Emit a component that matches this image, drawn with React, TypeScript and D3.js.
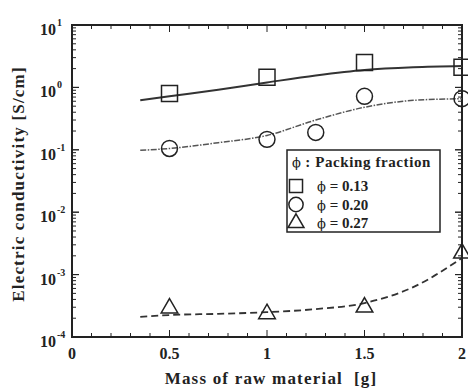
import React, { useRef, useEffect } from "react";
import * as d3 from "d3";

// measured points
const massA = [0.5, 1, 1.5, 2];
const condA = [0.8, 1.45, 2.5, 2.1]; // phi = 0.13
const massB = [0.5, 1, 1.25, 1.5, 2];
const condB = [0.105, 0.147, 0.19, 0.72, 0.66]; // phi = 0.20
const massC = [0.5, 1, 1.5, 2];
const condC = [2.9e-4, 2.35e-4, 3.0e-4, 2.2e-3]; // phi = 0.27

// fitted curves
const fitX = [0.35, 0.5, 0.75, 1, 1.25, 1.5, 1.75, 2];
const fitA = [0.62, 0.72, 0.92, 1.2, 1.55, 1.9, 2.1, 2.2];
const fitB = [0.098, 0.105, 0.13, 0.17, 0.3, 0.48, 0.62, 0.66];
const fitC = [2.1e-4, 2.25e-4, 2.35e-4, 2.5e-4, 2.8e-4, 3.5e-4, 6.3e-4, 1.85e-3];

const xTicks = [0, 0.5, 1, 1.5, 2];
const xTickLabels = ["0", "0.5", "1", "1.5", "2"];
const yExps = [1, 0, -1, -2, -3, -4];
const legendLabels = [" = 0.13", " = 0.20", " = 0.27"];

export default function App() {
  const svgRef = useRef<SVGSVGElement>(null);

  useEffect(() => {
    const width = 468;
    const height = 390;
    const left = 72, right = 462, top = 25, bottom = 337;
    const font = "'Liberation Serif', 'Times New Roman', serif";
    const phiFont = "'DejaVu Serif', serif";
    const ink = "#222";

    const svg = d3.select(svgRef.current);
    svg.selectAll("*").remove();
    svg.attr("width", width).attr("height", height);

    const x = d3.scaleLinear().domain([0, 2]).range([left, right]);
    const y = d3.scaleLog().domain([1e-4, 10]).range([bottom, top]);

    // frame
    svg.append("rect")
      .attr("x", left).attr("y", top)
      .attr("width", right - left).attr("height", bottom - top)
      .attr("fill", "none").attr("stroke", ink).attr("stroke-width", 2);

    // x ticks (inward, top and bottom)
    const xMinor = d3.range(0, 2.0001, 0.1);
    xMinor.forEach((v) => {
      const major = Math.abs(v * 2 - Math.round(v * 2)) < 1e-6;
      const len = major ? 7 : 4;
      [[bottom, -len], [top, len]].forEach(([y0, d]) => {
        svg.append("line")
          .attr("x1", x(v)).attr("x2", x(v))
          .attr("y1", y0).attr("y2", y0 + d)
          .attr("stroke", ink).attr("stroke-width", 1);
      });
    });

    // y ticks (log minor)
    for (let e = -4; e < 1; e++) {
      for (let m = 1; m <= 10; m++) {
        const v = m * Math.pow(10, e);
        const len = m === 1 || m === 10 ? 7 : 4;
        [[left, len], [right, -len]].forEach(([x0, d]) => {
          svg.append("line")
            .attr("x1", x0).attr("x2", x0 + d)
            .attr("y1", y(v)).attr("y2", y(v))
            .attr("stroke", ink).attr("stroke-width", 1);
        });
      }
    }

    // x tick labels
    xTicks.forEach((v, i) => {
      svg.append("text")
        .attr("x", x(v)).attr("y", 359)
        .attr("text-anchor", "middle")
        .style("font-family", font).style("font-weight", "bold")
        .style("font-size", "16px").style("fill", ink)
        .text(xTickLabels[i]);
    });

    // y tick labels
    yExps.forEach((e) => {
      svg.append("text")
        .attr("x", 56).attr("y", y(Math.pow(10, e)) + 10)
        .attr("text-anchor", "end")
        .style("font-family", font).style("font-weight", "bold")
        .style("font-size", "16px").style("fill", ink)
        .text("10");
      svg.append("text")
        .attr("x", 57).attr("y", y(Math.pow(10, e)) + 1)
        .style("font-family", font).style("font-weight", "bold")
        .style("font-size", "10px").style("fill", ink)
        .text(e < 0 ? "-" + Math.abs(e) : String(e));
    });

    // axis titles
    svg.append("text")
      .attr("x", 271).attr("y", 384)
      .attr("text-anchor", "middle")
      .style("font-family", font).style("font-weight", "bold")
      .style("font-size", "17px").style("letter-spacing", "1.2px")
      .style("white-space", "pre").style("fill", ink)
      .text("Mass of raw material  [g]");
    svg.append("text")
      .attr("transform", "translate(24,184) rotate(-90)")
      .attr("text-anchor", "middle")
      .style("font-family", font).style("font-weight", "bold")
      .style("font-size", "17px").style("letter-spacing", "1.2px")
      .style("fill", ink)
      .text("Electric conductivity [S/cm]");

    // fitted curves
    const line = (vals: number[]) =>
      d3.line<number>()
        .x((_, i) => x(fitX[i]))
        .y((d) => y(d))
        .curve(d3.curveMonotoneX)(vals);

    svg.append("path").attr("d", line(fitA))
      .attr("fill", "none").attr("stroke", "#333").attr("stroke-width", 2);
    svg.append("path").attr("d", line(fitB))
      .attr("fill", "none").attr("stroke", "#555").attr("stroke-width", 1.5)
      .attr("stroke-dasharray", "6,1.5,1.5,1.5");
    svg.append("path").attr("d", line(fitC))
      .attr("fill", "none").attr("stroke", "#333").attr("stroke-width", 1.8)
      .attr("stroke-dasharray", "7,4");

    // markers
    const square = d3.symbol().type(d3.symbolSquare).size(256);
    const circle = d3.symbol().type(d3.symbolCircle).size(200);
    const triangle = d3.symbol().type(d3.symbolTriangle).size(120);
    const mark = (xs: number[], ys: number[], sym: any) => {
      xs.forEach((v, i) => {
        svg.append("path")
          .attr("d", sym())
          .attr("transform", `translate(${x(v)},${y(ys[i])})`)
          .attr("fill", "none").attr("stroke", ink).attr("stroke-width", 1.5);
      });
    };
    mark(massA, condA, square);
    mark(massB, condB, circle);
    mark(massC, condC, triangle);

    // legend
    const lg = svg.append("g");
    lg.append("rect")
      .attr("x", 287).attr("y", 150).attr("width", 153).attr("height", 82)
      .attr("fill", "white").attr("stroke", ink).attr("stroke-width", 1.5);
    const title = lg.append("text")
      .attr("x", 292).attr("y", 167)
      .style("font-family", font).style("font-weight", "bold")
      .style("font-size", "15px").style("fill", ink);
    title.append("tspan").style("font-family", phiFont).style("font-weight", "normal")
      .style("font-size", "13px").text("\u03d5");
    title.append("tspan").style("letter-spacing", "0.6px").text(" : Packing fraction");
    const legSyms = [
      d3.symbol().type(d3.symbolSquare).size(170),
      d3.symbol().type(d3.symbolCircle).size(160),
      d3.symbol().type(d3.symbolTriangle).size(110),
    ];
    legendLabels.forEach((lab, i) => {
      const cy = 186 + i * 18.5;
      lg.append("path")
        .attr("d", legSyms[i]())
        .attr("transform", `translate(296,${cy})`)
        .attr("fill", "none").attr("stroke", ink).attr("stroke-width", 1.5);
      const t = lg.append("text")
        .attr("x", 317).attr("y", cy + 5)
        .style("font-family", font).style("font-weight", "bold")
        .style("font-size", "15px").style("fill", ink);
      t.append("tspan").style("font-family", phiFont).style("font-weight", "normal")
        .style("font-size", "13px").text("\u03d5");
      t.append("tspan").style("white-space", "pre").text(lab);
    });
  }, []);

  return <svg ref={svgRef} style={{ position: "absolute", left: 0, top: 0, background: "white" }}></svg>;
}
